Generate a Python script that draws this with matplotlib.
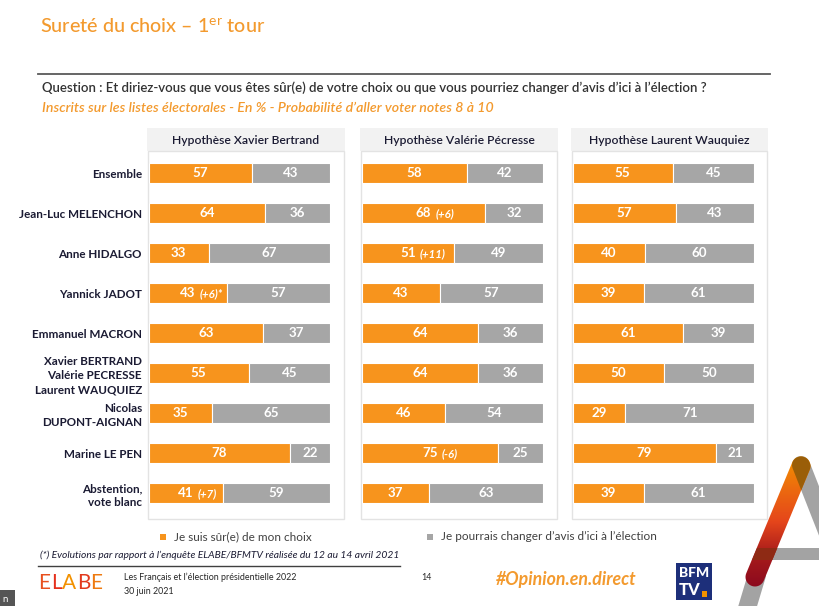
import numpy as np
import matplotlib
matplotlib.use("Agg")
from matplotlib import pyplot as plt
from matplotlib.patches import Rectangle, Polygon

plt.rcParams['font.family'] = ['Lato', 'DejaVu Sans']
plt.rcParams['mathtext.fontset'] = 'custom'
plt.rcParams['mathtext.rm'] = 'Lato'

# data
labels = ['Ensemble', 'Jean-Luc MELENCHON', 'Anne HIDALGO', 'Yannick JADOT',
          'Emmanuel MACRON', 'Xavier BERTRAND\nValérie PECRESSE\nLaurent WAUQUIEZ',
          'Nicolas\nDUPONT-AIGNAN', 'Marine LE PEN', 'Abstention,\nvote blanc']
panels = ['Hypothèse Xavier Bertrand', 'Hypothèse Valérie Pécresse', 'Hypothèse Laurent Wauquiez']
sure_xb = [57, 64, 33, 43, 63, 55, 35, 78, 41]
change_xb = [43, 36, 67, 57, 37, 45, 65, 22, 59]
sure_vp = [58, 68, 51, 43, 64, 64, 46, 75, 37]
change_vp = [42, 32, 49, 57, 36, 36, 54, 25, 63]
sure_lw = [55, 57, 40, 39, 61, 50, 29, 79, 39]
change_lw = [45, 43, 60, 61, 39, 50, 71, 21, 61]
evol_xb = {3: '(+6)*', 8: '(+7)'}
evol_vp = {1: '(+6)', 2: '(+11)', 7: '(-6)'}
evol_lw = {}
legend_labels = ['Je suis sûr(e) de mon choix', "Je pourrais changer d\u2019avis d\u2019ici à l\u2019élection"]

ORANGE = '#F7941D'
GREY = '#A6A6A6'
NAVY = '#1B1B33'
TITLE_OR = '#F39A2E'

W, H = 819, 606
fig = plt.figure(figsize=(W / 100, H / 100), dpi=100)

# overlay axes in pixel coordinates for the slide decorations
deco = fig.add_axes([0, 0, 1, 1])
deco.set_xlim(0, W)
deco.set_ylim(H, 0)
deco.axis('off')


def box(x0, y0, x1, y1):
    return [x0 / W, 1 - y1 / H, (x1 - x0) / W, (y1 - y0) / H]


# title
deco.text(40, 27, r'Sureté du choix – 1$^{\mathrm{er}}$ tour', color=TITLE_OR,
          fontsize=14.2, va='center', ha='left', fontweight='medium')
deco.plot([38, 770], [74, 74], color='#595959', lw=1.3)
deco.text(42, 88, "Question : Et diriez-vous que vous êtes sûr(e) de votre choix ou que vous pourriez changer d\u2019avis d\u2019ici à l\u2019élection ?",
          color='#333333', fontsize=9.55, va='center', ha='left', fontweight='semibold')
deco.text(42, 108, "Inscrits sur les listes électorales - En % - Probabilité d\u2019aller voter notes 8 à 10",
          color=TITLE_OR, fontsize=10.15, va='center', ha='left', fontstyle='italic', fontweight='semibold')

panel_x = [(147, 345), (360, 558), (571, 768)]
bar_x = [(149, 330), (362, 543), (573, 754)]
sures = [sure_xb, sure_vp, sure_lw]
changes = [change_xb, change_vp, change_lw]
evols = [evol_xb, evol_vp, evol_lw]

for k in range(3):
    px0, px1 = panel_x[k]
    deco.add_patch(Rectangle((px0, 128), px1 - px0, 23, facecolor='#F2F2F2', edgecolor='none'))
    deco.text((px0 + px1) / 2, 140, panels[k], ha='center', va='center',
              fontsize=8.7, fontweight='semibold', color=NAVY)
    deco.add_patch(Rectangle((px0 + 1, 151), px1 - px0 - 2, 368, facecolor='none',
                             edgecolor='#E3E3E3', lw=1))

    bx0, bx1 = bar_x[k]
    ax = fig.add_axes(box(bx0, 151, bx1, 519))
    ax.set_xlim(0, 100)
    ax.set_ylim(8.65, -0.55)
    y = np.arange(len(labels))
    s = np.array(sures[k])
    c = np.array(changes[k])
    ax.barh(y, s, height=0.5, color=ORANGE, edgecolor='white', linewidth=0.8)
    ax.barh(y, c, left=s, height=0.5, color=GREY, edgecolor='white', linewidth=0.8)
    for i in range(len(labels)):
        ax.text(s[i] / 2, i, str(s[i]), ha='center', va='center', color='white',
                fontsize=9.6, fontweight='bold')
        ax.text(s[i] + c[i] / 2, i, str(c[i]), ha='center', va='center', color='white',
                fontsize=9.6, fontweight='bold')
        if i in evols[k]:
            ax.annotate(evols[k][i], xy=(s[i] / 2, i), xytext=(8.5, -0.5), textcoords='offset points',
                        ha='left', va='center', color='white', fontsize=8.2,
                        fontstyle='italic', fontweight='bold')
    for sp in ax.spines.values():
        sp.set_visible(False)
    ax.set_xticks([])
    ax.patch.set_alpha(0)
    if k == 0:
        ax.set_yticks(y)
        ax.set_yticklabels(labels, fontsize=8.4, fontweight='bold', color=NAVY, linespacing=1.35)
        ax.tick_params(axis='y', length=0, pad=5)
    else:
        ax.set_yticks([])

# legend
deco.add_patch(Rectangle((160, 534), 6, 6, facecolor=ORANGE, edgecolor='none'))
deco.text(174, 537, legend_labels[0], fontsize=8.5, va='center', color='#404040')
deco.add_patch(Rectangle((427, 534), 6, 6, facecolor=GREY, edgecolor='none'))
deco.text(441, 537, legend_labels[1], fontsize=8.5, va='center', color='#404040')

deco.text(40, 555, "(*) Evolutions par rapport à l\u2019enquête ELABE/BFMTV réalisée du 12 au 14 avril 2021",
          fontsize=7.4, fontstyle='italic', va='center', color=NAVY)
deco.plot([38, 400], [566, 566], color='#404040', lw=1)

# footer
elabe_cols = ['#E8501E', '#E5301C', '#F29100', '#E23A1E', '#EE7A10']
elabe_x = [38, 51, 62, 77, 90]
for j, ch in enumerate('ELABE'):
    deco.text(elabe_x[j], 583, ch, fontsize=15, fontweight='normal', color=elabe_cols[j], va='center')
deco.text(124, 577, "Les Français et l\u2019élection présidentielle 2022", fontsize=6.4, va='center', color='#262626')
deco.text(124, 591, "30 juin 2021", fontsize=6.4, va='center', color='#262626')
deco.text(421, 577, "14", fontsize=6.4, va='center', color='#262626')
deco.text(496, 580, "#Opinion.en.direct", fontsize=12.8, fontstyle='italic', fontweight='bold',
          color=TITLE_OR, va='center')
deco.add_patch(Rectangle((676, 563), 36, 37, facecolor='#1D2F7A', edgecolor='none'))
deco.text(694, 573, "BFM", fontsize=10, fontweight='black', color='white', ha='center', va='center')
deco.text(690, 590, "TV", fontsize=12, fontweight='black', color='white', ha='center', va='center')
deco.add_patch(Rectangle((702, 591), 5, 6, facecolor='#F39200', edgecolor='none'))


# A logo: rounded bands
def band(p0, p1, hw, n=20):
    p0 = np.array(p0, float)
    p1 = np.array(p1, float)
    d = p1 - p0
    d = d / np.hypot(*d)
    nrm = np.array([-d[1], d[0]])
    a0 = np.arctan2(nrm[1], nrm[0])
    t = np.linspace(0, np.pi, n)
    cap1 = [p1 + hw * np.array([np.cos(a0 - tt), np.sin(a0 - tt)]) for tt in t]
    cap0 = [p0 + hw * np.array([np.cos(a0 + np.pi - tt), np.sin(a0 + np.pi - tt)]) for tt in t]
    return np.array(cap1 + cap0)


grey_right = Polygon(band((801, 465), (850, 590), 9), closed=True, facecolor='#A3A3A3', edgecolor='none')
grey_left = Polygon(band((757, 575), (742, 625), 9), closed=True, facecolor='#A3A3A3', edgecolor='none')
cross = Polygon([(757, 548), (819, 548), (819, 560), (752, 560)], closed=True,
                facecolor='#A3A3A3', edgecolor='none')
for p in (grey_right, grey_left, cross):
    deco.add_patch(p)

orange_band = Polygon(band((801, 466), (755, 577), 9.5), closed=True, facecolor='none', edgecolor='none')
deco.add_patch(orange_band)
grad = np.linspace(0, 1, 100)[:, None]
cmap = matplotlib.colors.LinearSegmentedColormap.from_list(
    'logo', ['#F39200', '#EC6A0F', '#E5461B', '#A81B1B', '#8C0A1E'])
img = deco.imshow(grad, cmap=cmap, extent=(740, 815, 587, 456), aspect='auto', zorder=2)
img.set_clip_path(orange_band)
deco.set_xlim(0, W)
deco.set_ylim(H, 0)

top_overlap = Polygon(band((801, 465), (850, 590), 9), closed=True, facecolor='#9A5E08',
                      edgecolor='none', zorder=3)
deco.add_patch(top_overlap)
top_overlap.set_clip_path(orange_band)
cross_overlap = Polygon([(757, 548), (819, 548), (819, 560), (752, 560)], closed=True,
                        facecolor='#8E2A14', edgecolor='none', zorder=3)
deco.add_patch(cross_overlap)
cross_overlap.set_clip_path(orange_band)

deco.add_patch(Rectangle((0, 590), 15, 16, facecolor='#555555', edgecolor='none'))
deco.text(2, 599, "n", fontsize=7, color='white', va='center')

plt.savefig("out.png", dpi=100)
